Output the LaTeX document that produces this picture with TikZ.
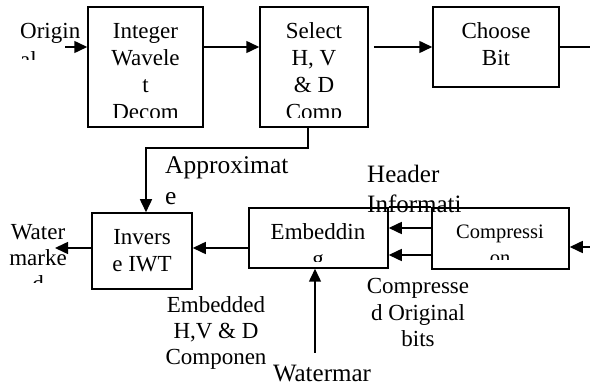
\documentclass[tikz,border=0pt]{standalone}
\usepackage{fontspec}
\setmainfont{Liberation Serif}
\usetikzlibrary{arrows.meta}
\begin{document}
\begin{tikzpicture}[x=1pt,y=-1pt,
  box/.style={draw,line width=1.5pt,inner sep=0pt},
  ln/.style={line width=1.5pt},
  arr/.style={line width=1.5pt,-{Triangle[length=13pt,width=12pt]}},
  txt/.style={inner sep=0pt,font=\fontsize{23}{27}\selectfont},
  stxt/.style={inner sep=0pt,font=\fontsize{20.5}{25}\selectfont},
  ltxt/.style={inner sep=0pt,font=\fontsize{25}{30}\selectfont}]
\useasboundingbox (0,0) rectangle (590,387);

% boxes
\node[box,minimum width=115pt,minimum height=120pt] (iwd) at (145.5,67) {};
\node[box,minimum width=108pt,minimum height=120pt] (sel) at (314,67) {};
\node[box,minimum width=126pt,minimum height=80pt] (cb) at (496,47) {};
\node[box,minimum width=100pt,minimum height=76pt] (inv) at (142,251) {};
\node[box,minimum width=139pt,minimum height=60pt] (emb) at (318.5,238) {};
\node[box,minimum width=137pt,minimum height=61pt] (comp) at (500.5,238.5) {};

% box texts
\begin{scope}
\clip (88,7) rectangle (203,118);
\node[txt,anchor=base] (t1) at (145.5,39) {Integer};
\node[txt,anchor=base] (t2) at (145.5,66) {Wavele};
\node[txt,anchor=base] (t3) at (145.5,93) {t};
\node[txt,anchor=base] (t4) at (145.5,120) {Decom};
\end{scope}
\begin{scope}
\clip (260,7) rectangle (368,118);
\node[txt,anchor=base] (s1) at (314,39) {Select};
\node[txt,anchor=base] (s2) at (314,66) {H, V};
\node[txt,anchor=base] (s3) at (314,93) {\& D};
\node[txt,anchor=base] (s4) at (314,120) {Comp};
\end{scope}
\node[txt,anchor=base] (c1t) at (496,39) {Choose};
\node[txt,anchor=base] (c2t) at (496,66) {Bit};
\node[txt,anchor=base] (i1) at (142,245) {Invers};
\node[txt,anchor=base] (i2) at (142,272) {e IWT};
\begin{scope}
\clip (249,208) rectangle (388,262);
\node[txt,anchor=base] (e1) at (318,240) {Embeddin};
\node[txt,anchor=base] (e2) at (318,267) {g};
\end{scope}
\begin{scope}
\clip (432,208) rectangle (569,260);
\node[stxt,anchor=base] (k1) at (500,239) {Compressi};
\node[stxt,anchor=base] (k2) at (500,264.5) {on};
\end{scope}

% free labels
\begin{scope}
\clip (0,0) rectangle (88,60);
\node[txt,anchor=base west] (o1t) at (20,39) {Origin};
\node[txt,anchor=base west] (o2t) at (20,68) {al};
\end{scope}
\begin{scope}
\clip (0,215) rectangle (88,283);
\node[txt,anchor=base] (w1) at (38,240) {Water};
\node[txt,anchor=base] (w2) at (38,266) {marke};
\node[txt,anchor=base] (w3) at (38,292) {d};
\end{scope}
\node[ltxt,anchor=base west,font=\fontsize{25.5}{30}\selectfont] (a1t) at (165,174) {Approximat};
\node[ltxt,anchor=base west,font=\fontsize{25.5}{30}\selectfont] (a2t) at (165,205) {e};
\node[ltxt,anchor=base west] (h1t) at (367,183) {Header};
\node[ltxt,anchor=base west] (h2t) at (367,213) {Informati};
\node[txt,anchor=base] (m1) at (216,313) {Embedded};
\node[txt,anchor=base] (m2) at (216,339) {H,V \& D};
\node[txt,anchor=base] (m3) at (216,365) {Componen};
\node[txt,anchor=base] (q1) at (418,294) {Compresse};
\node[txt,anchor=base] (q2) at (418,320.5) {d Original};
\node[txt,anchor=base] (q3) at (418,347) {bits};
\node[ltxt,anchor=base] (wm) at (322,381.5) {Watermar};

% helper coordinates
\coordinate (o1) at (65,47);
\coordinate (c1) at (590,47);
\coordinate (b1) at (55,248);
\coordinate (h1) at (0,228);
\coordinate (h2) at (0,255);
\coordinate (ci) at (590,247);
\coordinate (wk) at (315,353);
\coordinate (ap) at (308,148);
\coordinate (ap2) at (146,148);

% connectors
\draw[arr] (o1) -- (o1 -| iwd.west);
\draw[arr] (iwd.east |- o1) -- (sel.west |- o1);
\draw[arr] ([xshift=5pt]sel.east |- o1) -- (cb.west |- o1);
\draw[ln] (cb.east |- c1) -- (c1);
\draw[arr] (ap |- sel.south) -- (ap) -- (ap2) -- (ap2 |- inv.north);
\draw[arr] (emb.west |- b1) -- (inv.east |- b1);
\draw[arr] (inv.west |- b1) -- (b1);
\draw[arr] (comp.west |- h1) -- (emb.east |- h1);
\draw[arr] (comp.west |- h2) -- (emb.east |- h2);
\draw[ln] (emb.north east) -- (comp.north west);
\draw[arr] (ci) -- (comp.east |- ci);
\draw[arr] (wk) -- (wk |- emb.south);
\end{tikzpicture}
\end{document}
